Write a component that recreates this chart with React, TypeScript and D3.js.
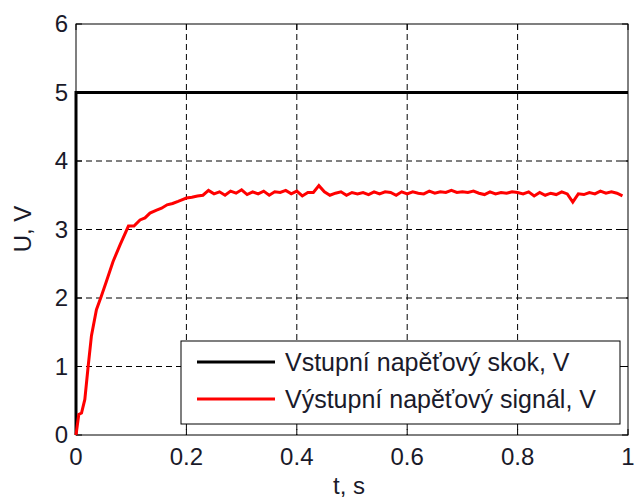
import React from 'react'
import * as d3 from 'd3'

// input step, V
const stepTime = [0, 0, 1]
const stepVolt = [0, 5, 5]

// measured output, V
const outTime = [
  0, 0.005, 0.01, 0.016, 0.022, 0.028, 0.037, 0.046, 0.055, 0.067, 0.08, 0.095,
  0.105, 0.116, 0.125, 0.134, 0.145, 0.155, 0.165, 0.175, 0.185, 0.194,
  0.2, 0.21, 0.22, 0.23, 0.24, 0.25, 0.26, 0.27, 0.28, 0.29,
  0.3, 0.31, 0.32, 0.33, 0.34, 0.35, 0.36, 0.37, 0.38, 0.39,
  0.4, 0.41, 0.42, 0.43, 0.44, 0.45, 0.46, 0.47, 0.48, 0.49,
  0.5, 0.51, 0.52, 0.53, 0.54, 0.55, 0.56, 0.57, 0.58, 0.59,
  0.6, 0.61, 0.62, 0.63, 0.64, 0.65, 0.66, 0.67, 0.68, 0.69,
  0.7, 0.71, 0.72, 0.73, 0.74, 0.75, 0.76, 0.77, 0.78, 0.79,
  0.8, 0.81, 0.82, 0.83, 0.84, 0.85, 0.86, 0.87, 0.88, 0.89,
  0.9, 0.91, 0.92, 0.93, 0.94, 0.95, 0.96, 0.97, 0.98, 0.99
]
const outVolt = [
  0, 0.3, 0.32, 0.52, 1.0, 1.45, 1.83, 2.03, 2.24, 2.53, 2.78, 3.05,
  3.05, 3.14, 3.17, 3.24, 3.28, 3.31, 3.36, 3.38, 3.41, 3.44,
  3.46, 3.47, 3.49, 3.5, 3.57, 3.52, 3.55, 3.5, 3.56, 3.53,
  3.58, 3.51, 3.55, 3.52, 3.56, 3.5, 3.55, 3.54, 3.57, 3.52,
  3.56, 3.49, 3.54, 3.54, 3.64, 3.55, 3.5, 3.53, 3.55, 3.5,
  3.54, 3.52, 3.54, 3.51, 3.55, 3.52, 3.55, 3.54, 3.5, 3.55,
  3.52, 3.55, 3.53, 3.52, 3.56, 3.53, 3.55, 3.54, 3.57, 3.54,
  3.55, 3.54, 3.56, 3.53, 3.51, 3.55, 3.52, 3.54, 3.53, 3.55,
  3.54, 3.52, 3.55, 3.49, 3.54, 3.5, 3.53, 3.51, 3.55, 3.52,
  3.4, 3.52, 3.51, 3.54, 3.52, 3.56, 3.53, 3.55, 3.53, 3.49
]

const xTicks = [0, 0.2, 0.4, 0.6, 0.8, 1]
const yTicks = [0, 1, 2, 3, 4, 5, 6]
const legendLabels = ['Vstupní napěťový skok, V', 'Výstupní napěťový signál, V']
const seriesColors = ['#000000', '#ff0000']

const W = 634
const H = 501
const m = { left: 76, right: 628, top: 24, bottom: 435 }
const font = '"Liberation Sans", Arial, sans-serif'

export default function App() {
  const x = d3.scaleLinear().domain([0, 1]).range([m.left, m.right])
  const y = d3.scaleLinear().domain([0, 6]).range([m.bottom, m.top])

  const line = d3.line<[number, number]>()
    .x(d => x(d[0]))
    .y(d => y(d[1]))

  const stepPath = line(stepTime.map((t, i) => [t, stepVolt[i]]))
  const outPath = line(outTime.map((t, i) => [t, outVolt[i]]))

  const tick = 6
  const lg = { x: 181, y: 341, w: 439, h: 83 }
  const rowY = [362, 399]

  return (
    <svg width={W} height={H} style={{ position: 'absolute', left: 0, top: 0, background: '#fff' }}
      fontFamily={font}>
      {/* grid */}
      <g stroke="#000" strokeWidth={1} strokeDasharray="6,4" fill="none">
        {xTicks.slice(1, -1).map(t => (
          <line key={'gx' + t} x1={x(t)} x2={x(t)} y1={m.top} y2={m.bottom} />
        ))}
        {yTicks.slice(1, -1).map(t => (
          <line key={'gy' + t} x1={m.left} x2={m.right} y1={y(t)} y2={y(t)} />
        ))}
      </g>

      {/* inward ticks on all sides */}
      <g stroke="#000" strokeWidth={1}>
        {xTicks.map(t => (
          <g key={'tx' + t}>
            <line x1={x(t)} x2={x(t)} y1={m.bottom} y2={m.bottom - tick} />
            <line x1={x(t)} x2={x(t)} y1={m.top} y2={m.top + tick} />
          </g>
        ))}
        {yTicks.map(t => (
          <g key={'ty' + t}>
            <line x1={m.left} x2={m.left + tick} y1={y(t)} y2={y(t)} />
            <line x1={m.right} x2={m.right - tick} y1={y(t)} y2={y(t)} />
          </g>
        ))}
      </g>

      <rect x={m.left} y={m.top} width={m.right - m.left} height={m.bottom - m.top}
        fill="none" stroke="#000" strokeWidth={1} />

      <path d={stepPath || ''} fill="none" stroke={seriesColors[0]} strokeWidth={3} />
      <path d={outPath || ''} fill="none" stroke={seriesColors[1]} strokeWidth={3} strokeLinejoin="miter" />

      {/* tick labels */}
      <g fontSize={24} fill="#1a1a2a">
        {xTicks.map(t => (
          <text key={'lx' + t} x={x(t)} y={457} dy="0.35em" textAnchor="middle">{String(t)}</text>
        ))}
        {yTicks.map(t => (
          <text key={'ly' + t} x={m.left - 8} y={y(t)} dy="0.35em" textAnchor="end">{String(t)}</text>
        ))}
      </g>

      <text x={349} y={494} fontSize={24} textAnchor="middle" fill="#1a1a2a">t, s</text>
      <text transform="translate(31,229) rotate(-90)" fontSize={24} textAnchor="middle" fill="#1a1a2a">U, V</text>

      {/* legend */}
      <rect x={lg.x} y={lg.y} width={lg.w} height={lg.h} fill="#fff" stroke="#000" strokeWidth={1} />
      {legendLabels.map((l, i) => (
        <g key={l}>
          <line x1={197} x2={275} y1={rowY[i]} y2={rowY[i]} stroke={seriesColors[i]} strokeWidth={3} />
          <text x={285} y={rowY[i]} dy="0.35em" fontSize={25} fill="#1a1a2a">{l}</text>
        </g>
      ))}
    </svg>
  )
}
